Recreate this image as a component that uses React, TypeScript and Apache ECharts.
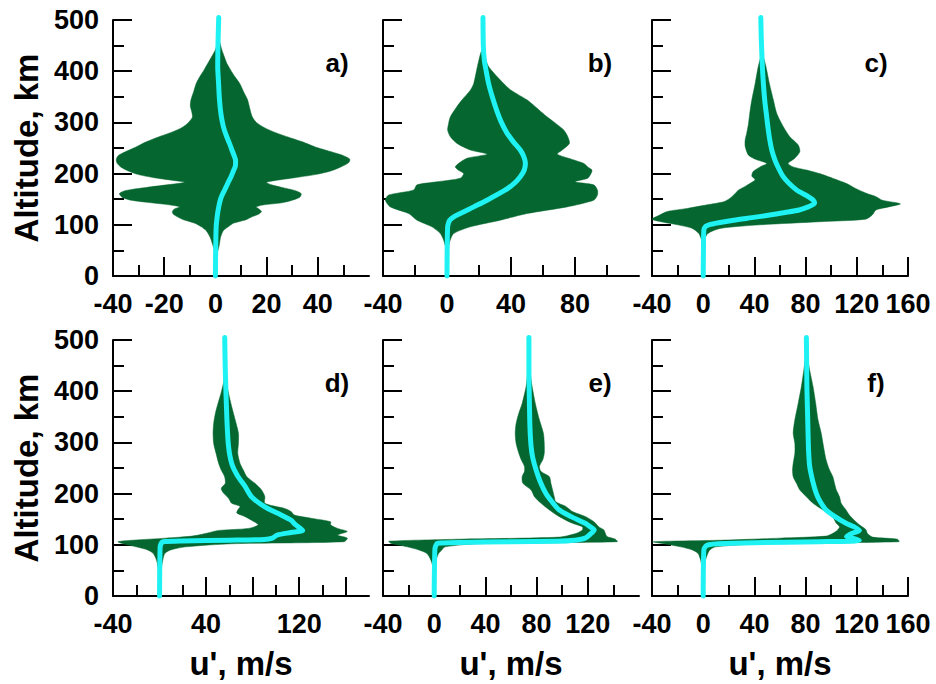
import { useEffect, useRef } from "react";
import * as echarts from "echarts";

const FONT = "'Liberation Sans', Arial, sans-serif";
const GREEN = "#05662F";
const CYAN = "#1EF2F2";

// ---------- panel a ----------
const ENV_ALT_A = [40, 60, 75, 88, 96, 103, 110, 116, 121, 126, 131, 135, 139, 143, 148, 154, 161, 167, 173, 178, 183, 187, 192, 198, 205, 213, 221, 228, 235, 243, 252, 262, 272, 281, 290, 300, 310, 320, 332, 345, 360, 376, 390, 402, 415, 428, 442, 455, 462];
const ENV_L_A = [0.2, -1, -2, -3.5, -5.5, -8, -12.5, -15, -16.5, -16.8, -16, -14, -18, -25, -33, -36.5, -37.5, -35, -27, -19, -12, -17, -24, -30, -34, -37, -38.5, -38.7, -38, -35, -31, -27, -22, -17, -13, -10.5, -9, -9.2, -9.8, -9.5, -8.5, -7.5, -6, -4.5, -3, -1.5, 0, 0.8, 1.2];
const ENV_R_A = [0.4, 1.5, 2, 3, 5, 7, 12, 14.5, 17, 18, 17, 16, 19, 26, 30, 33, 33.5, 31, 26, 22, 20, 24, 31, 39, 45, 49, 52, 52.5, 50, 45, 39, 34, 28, 23, 19, 16, 14.5, 13.8, 13.2, 12.5, 11, 9.5, 7.5, 6, 4.5, 3.5, 2.5, 1.8, 1.4];
const CY_ALT_A = [0, 50, 96, 120, 135, 150, 161, 174, 185, 194, 205, 215, 225, 235, 247, 259, 275, 292, 315, 344, 380, 409, 450, 505];
const CY_U_A = [0, 0.1, 0.3, 0.8, 1.3, 2, 2.9, 4.2, 5.2, 6.1, 7, 7.8, 7.9, 7.3, 6.4, 5.5, 4.2, 3.1, 2.2, 1.6, 1.2, 0.9, 1.0, 1.3];

// ---------- panel b ----------
const ENV_ALT_B = [40, 55, 70, 83, 96, 109, 122, 135, 148, 158, 168, 178, 184, 191, 200, 207, 213, 220, 230, 238, 246, 259, 272, 285, 298, 311, 331, 344, 363, 376, 409, 435, 442];
const ENV_L_B = [-0.2, -0.8, -2.1, -4.2, -9.4, -18.75, -24, -35.4, -38.5, -36.5, -20.8, -18.75, -6.25, 8.3, 10.4, 7, 5.2, 7.3, 12.5, 25, 14.6, 6.25, 2.1, 0.4, 1, 2.1, 6.25, 9.4, 14.6, 16.7, 19, 21, 22];
const ENV_R_B = [0.2, 0.8, 2, 4.2, 14.6, 33.3, 50, 75, 91.7, 94, 94, 91.7, 80, 88, 90, 90.6, 88, 85.4, 76, 69, 72, 76.5, 75.5, 73, 68, 62.5, 55, 50, 40, 35.4, 26, 23, 22];
const CY_ALT_B = [0, 50, 96, 104, 109, 116, 122, 135, 148, 168, 181, 194, 207, 220, 233, 246, 262, 279, 300, 324, 350, 376, 400, 422, 450, 505];
const CY_U_B = [0, 0.1, 0.4, 1, 1.7, 4.5, 8.3, 16.7, 25, 36.5, 42, 45.8, 48.3, 49, 48, 45.8, 41.5, 37.5, 34, 31, 28.3, 26, 24.5, 23.3, 22.7, 22.5];

// ---------- panel c ----------
const L_ALT_C = [55, 70, 83, 93, 100, 106, 111, 117, 126, 132, 139, 145, 152, 161, 168, 175, 181, 188, 195, 204, 213, 220, 227, 236, 253, 266, 279, 298, 324, 344, 376, 409, 428, 434];
const L_U_C = [-0.3, -1.3, -3.4, -8.5, -20, -33, -40, -35.7, -28, -12.4, 3, 16, 21, 25, 27.6, 32.8, 36.7, 40.6, 38, 39, 44.4, 49.6, 41.9, 35.4, 32.8, 32.8, 34, 35.4, 36.7, 38, 40.6, 43, 45, 46];
const R_ALT_C = [55, 70, 83, 93, 100, 106, 111, 119, 129, 135, 141, 148, 155, 161, 171, 181, 191, 200, 207, 213, 220, 230, 243, 256, 272, 292, 318, 344, 376, 409, 428, 434];
const R_U_C = [0.3, 1, 3.6, 13.4, 44.4, 91, 127, 132, 135, 145, 154, 140, 135, 128, 119, 111.6, 101, 91, 80.6, 70.3, 66.4, 71.6, 75.5, 74.2, 67.7, 62.5, 57.4, 54.8, 51.7, 49, 47, 46];
const CY_ALT_C = [0, 50, 90, 97, 100, 104, 109, 114, 119, 124, 129, 135, 142, 148, 155, 168, 181, 194, 210, 227, 245, 266, 290, 311, 340, 376, 410, 441, 470, 505];
const CY_U_C = [0, 0.2, 0.5, 2, 4.4, 12, 23.8, 38, 52, 64, 75, 82, 87, 86, 82, 73, 67, 62.5, 59, 56, 53.7, 52, 50.6, 49.6, 48.2, 47, 46.2, 45.7, 45.3, 45];

// ---------- panel d ----------
const L_ALT_D = [45, 57, 70, 83, 90, 96, 102, 106, 109, 113, 117, 122, 128, 132, 139, 148, 155, 162, 168, 175, 181, 191, 201, 210, 220, 233, 246, 259, 279, 298, 318, 337, 357, 376, 396, 415, 432, 441];
const L_U_D = [-0.6, -1.4, -2.6, -5.4, -10.2, -20, -31.5, -35.7, -23, 5.4, 28, 39.4, 50.8, 76.3, 84.8, 79, 73.5, 66.4, 67.2, 69.2, 62, 59.3, 55, 53, 56.5, 55.9, 53, 50.8, 48.5, 46.5, 46, 46.5, 48, 50.2, 52.8, 54.8, 56, 56.2];
const R_ALT_D = [45, 57, 70, 83, 90, 96, 102, 106, 113, 119, 126, 132, 139, 145, 152, 158, 165, 171, 181, 194, 207, 220, 233, 246, 259, 279, 298, 318, 344, 370, 396, 415, 432, 441];
const R_U_D = [0.6, 1.7, 2.8, 4.5, 9.6, 22.4, 62, 158.6, 161.4, 153, 161.4, 153, 147, 147, 130, 116, 113, 107.5, 90.5, 90.5, 87.7, 82, 75, 72, 69.2, 67.2, 67.8, 67.8, 65, 62, 59.3, 57.6, 56.5, 56.2];
const CY_ALT_D = [0, 95, 103, 106, 107.5, 109, 110.5, 113, 119, 124, 128, 134, 141, 148, 161, 174, 194, 214, 235, 259, 292, 344, 441, 505];
const CY_U_D = [0, 0.5, 1.5, 3, 20, 60, 90, 97, 101, 113, 123, 120, 116, 113, 102, 90.5, 79, 73.5, 67, 62, 59.3, 57.9, 56.5, 56];

// ---------- panel e ----------
const L_ALT_E = [45, 57, 70, 83, 90, 96, 103, 107, 111, 115, 122, 129, 135, 142, 155, 168, 181, 194, 207, 220, 233, 243, 253, 266, 279, 298, 318, 337, 357, 376, 409, 435, 454];
const L_U_E = [0, -1, -2.6, -5.7, -12, -21, -34, -35.4, 20, 97.7, 110.6, 115.8, 115.8, 108, 97.7, 90, 83.5, 78.3, 75.7, 69.3, 68.7, 70.5, 70.5, 68, 66.1, 64, 63.3, 64, 66.1, 68.7, 71.8, 73, 74];
const R_ALT_E = [45, 57, 70, 83, 90, 96, 102, 106, 111, 116, 122, 129, 135, 145, 155, 165, 175, 184, 194, 207, 220, 233, 243, 253, 266, 279, 298, 318, 344, 376, 409, 435, 454];
const R_U_E = [0, 1, 1.5, 3.4, 6, 8.5, 33, 143, 141.6, 135, 133.8, 132.6, 128.7, 124.8, 118.3, 108, 102.8, 95, 93.8, 92.5, 91.2, 90, 83.5, 82.2, 84.8, 86, 86, 85.3, 82.2, 79, 76.5, 75, 74];
const CY_ALT_E = [0, 90, 100, 103, 104.5, 106, 107, 109, 113, 121, 129, 135, 142, 155, 168, 184, 200, 222, 246, 270, 292, 330, 376, 440, 505];
const CY_U_E = [0, 0.5, 1.5, 3, 20, 60, 95, 110, 118, 122, 125, 122, 118, 107, 97.7, 92, 87.3, 83, 79.6, 77, 75.7, 74.8, 74.4, 74, 74];

// ---------- panel f ----------
const L_ALT_F = [45, 57, 70, 83, 90, 96, 102, 106, 109, 113, 117, 122, 129, 135, 142, 155, 168, 181, 194, 207, 220, 233, 246, 259, 279, 298, 318, 344, 376, 409, 441, 480];
const L_U_F = [0, -1, -2, -4, -8.5, -17.6, -30.5, -39.5, 13.4, 60, 96, 101, 105, 106.5, 104, 101, 93.5, 85.8, 80.6, 75.5, 72.9, 70.3, 69.8, 70.3, 71.6, 71.6, 70.3, 71.6, 74.2, 76.7, 78.6, 80.6];
const R_ALT_F = [45, 57, 70, 83, 90, 96, 102, 106, 111, 115, 122, 130, 139, 148, 158, 168, 181, 194, 207, 220, 233, 246, 266, 292, 318, 344, 376, 409, 441, 467, 480];
const R_U_F = [0, 1, 1.8, 3.6, 5.2, 9.6, 44.4, 153, 151.7, 132.3, 128.4, 127, 122, 118, 114.2, 111.6, 107.8, 106.5, 104, 102.6, 101.3, 98.7, 96, 94, 92.2, 89.7, 87.9, 85.8, 83.2, 81.4, 80.6];
const CY_ALT_F = [0, 90, 97, 100, 102, 104, 106, 107, 108.5, 112, 116, 122, 128, 135, 142, 155, 168, 184, 200, 225, 253, 280, 311, 360, 409, 460, 505];
const CY_U_F = [0, 0.5, 2, 4.4, 12, 40, 90, 115, 122, 118, 112, 116, 122, 118, 111.6, 103, 96, 91.5, 88.4, 85.5, 83.2, 82.4, 82, 81.5, 81, 80.8, 80.6];

// ---------- axes ----------
const X_MIN = [-40, -40, -40, -40, -40, -40];
const X_MAX = [60, 120, 160, 180, 160, 160];
const X_MAJOR = [
  [-40, -20, 0, 20, 40],
  [-40, 0, 40, 80],
  [-40, 0, 40, 80, 120, 160],
  [-40, 0, 40, 80, 120, 160],
  [-40, 0, 40, 80, 120],
  [-40, 0, 40, 80, 120, 160],
];
const X_MINOR = [
  [-30, -10, 10, 30, 50],
  [-20, 20, 60, 100],
  [-20, 20, 60, 100, 140],
  [-20, 20, 60, 100, 140],
  [-20, 20, 60, 100, 140],
  [-20, 20, 60, 100, 140],
];
const X_LABELS = [
  [-40, -20, 0, 20, 40],
  [-40, 0, 40, 80],
  [-40, 0, 40, 80, 120, 160],
  [-40, 40, 120],
  [-40, 0, 40, 80, 120],
  [-40, 0, 40, 80, 120, 160],
];
const PANEL_NAMES = ["a)", "b)", "c)", "d)", "e)", "f)"];
const Y_TITLE = "Altitude, km";
const X_TITLE = "u', m/s";

const ENVELOPES = [
  { lAlt: ENV_ALT_A, lU: ENV_L_A, rAlt: ENV_ALT_A, rU: ENV_R_A },
  { lAlt: ENV_ALT_B, lU: ENV_L_B, rAlt: ENV_ALT_B, rU: ENV_R_B },
  { lAlt: L_ALT_C, lU: L_U_C, rAlt: R_ALT_C, rU: R_U_C },
  { lAlt: L_ALT_D, lU: L_U_D, rAlt: R_ALT_D, rU: R_U_D },
  { lAlt: L_ALT_E, lU: L_U_E, rAlt: R_ALT_E, rU: R_U_E },
  { lAlt: L_ALT_F, lU: L_U_F, rAlt: R_ALT_F, rU: R_U_F },
];
const CYAN_LINES = [
  { alt: CY_ALT_A, u: CY_U_A },
  { alt: CY_ALT_B, u: CY_U_B },
  { alt: CY_ALT_C, u: CY_U_C },
  { alt: CY_ALT_D, u: CY_U_D },
  { alt: CY_ALT_E, u: CY_U_E },
  { alt: CY_ALT_F, u: CY_U_F },
];

// layout (pixels)
const GRID_LEFT = [113, 383, 652];
const GRID_TOP = [20, 340];
const GRID_W = 256;
const GRID_H = 256;

export default function App() {
  const ref = useRef<HTMLDivElement>(null);

  useEffect(() => {
    if (!ref.current) return;
    const chart = echarts.init(ref.current, undefined, { renderer: "svg" });
    const black = { color: "#000", width: 2 };
    const labelStyle = {
      fontSize: 27,
      fontWeight: "bold" as const,
      color: "#000",
      fontFamily: FONT,
    };

    const grids: any[] = [];
    const xAxes: any[] = [];
    const yAxes: any[] = [];
    const series: any[] = [];
    const graphics: any[] = [];

    for (let k = 0; k < 6; k++) {
      const row = Math.floor(k / 3);
      const col = k % 3;
      grids.push({
        left: GRID_LEFT[col],
        top: GRID_TOP[row],
        width: GRID_W,
        height: GRID_H,
        containLabel: false,
      });
      xAxes.push({
        gridIndex: k,
        type: "value",
        min: X_MIN[k],
        max: X_MAX[k],
        position: "bottom",
        axisLine: { show: true, onZero: false, lineStyle: black },
        axisTick: { show: true, inside: true, length: 11, customValues: X_MINOR[k], lineStyle: black },
        axisLabel: { show: true, customValues: X_LABELS[k], margin: 14, ...labelStyle },
        splitLine: { show: false },
      });
      xAxes.push({
        gridIndex: k,
        type: "value",
        min: X_MIN[k],
        max: X_MAX[k],
        position: "bottom",
        axisLine: { show: false, onZero: false },
        axisTick: { show: true, inside: true, length: 19, customValues: X_MAJOR[k], lineStyle: black },
        axisLabel: { show: false },
        splitLine: { show: false },
      });
      yAxes.push({
        gridIndex: k,
        type: "value",
        min: 0,
        max: 500,
        interval: 100,
        axisLine: { show: true, onZero: false, lineStyle: black },
        axisTick: { show: true, inside: true, length: 19, lineStyle: black },
        minorTick: { show: true, splitNumber: 2, length: 11, lineStyle: black },
        axisLabel: { show: col === 0, margin: 14, ...labelStyle },
        splitLine: { show: false },
        minorSplitLine: { show: false },
      });

      const env = ENVELOPES[k];
      const verts: number[][] = [];
      for (let i = 0; i < env.lAlt.length; i++) verts.push([env.lU[i], env.lAlt[i]]);
      for (let i = env.rAlt.length - 1; i >= 0; i--) verts.push([env.rU[i], env.rAlt[i]]);

      series.push({
        type: "custom",
        xAxisIndex: 2 * k,
        yAxisIndex: k,
        data: verts,
        encode: { x: 0, y: 1 },
        silent: true,
        z: 2,
        renderItem: (params: any, api: any) => {
          if (params.dataIndex !== 0) return null;
          const pts = verts.map((p) => api.coord(p));
          return {
            type: "polygon",
            shape: { points: pts, smooth: 0.25 },
            style: { fill: GREEN, stroke: GREEN, lineWidth: 0.5 },
          };
        },
      });

      const cy = CYAN_LINES[k];
      series.push({
        type: "line",
        xAxisIndex: 2 * k,
        yAxisIndex: k,
        data: cy.alt.map((h, i) => [cy.u[i], h]),
        symbol: "none",
        showSymbol: false,
        smooth: 0.25,
        clip: false,
        z: 3,
        silent: true,
        lineStyle: { color: CYAN, width: 5, cap: "round", join: "round" },
      });

      const lx = [337, 600, 876][col];
      const ly = [63, 383][row];
      graphics.push({
        type: "text",
        x: lx,
        y: ly,
        style: {
          text: PANEL_NAMES[k],
          fontSize: 26,
          fontWeight: "bold",
          fontFamily: FONT,
          fill: "#000",
          align: "center",
          verticalAlign: "middle",
        },
      });
    }

    [148, 468].forEach((cyc) => {
      graphics.push({
        type: "text",
        x: 26,
        y: cyc,
        rotation: Math.PI / 2,
        style: {
          text: Y_TITLE,
          fontSize: 33,
          fontWeight: "bold",
          fontFamily: FONT,
          fill: "#000",
          align: "center",
          verticalAlign: "middle",
        },
      });
    });
    [241, 511, 780].forEach((cx) => {
      graphics.push({
        type: "text",
        x: cx,
        y: 663,
        style: {
          text: X_TITLE,
          fontSize: 33,
          fontWeight: "bold",
          fontFamily: FONT,
          fill: "#000",
          align: "center",
          verticalAlign: "middle",
        },
      });
    });

    chart.setOption({
      animation: false,
      backgroundColor: "#fff",
      grid: grids,
      xAxis: xAxes,
      yAxis: yAxes,
      series,
      graphic: graphics,
    });

    return () => chart.dispose();
  }, []);

  return (
    <div
      ref={ref}
      style={{ position: "fixed", left: 0, top: 0, width: 936, height: 684 }}
    />
  );
}
